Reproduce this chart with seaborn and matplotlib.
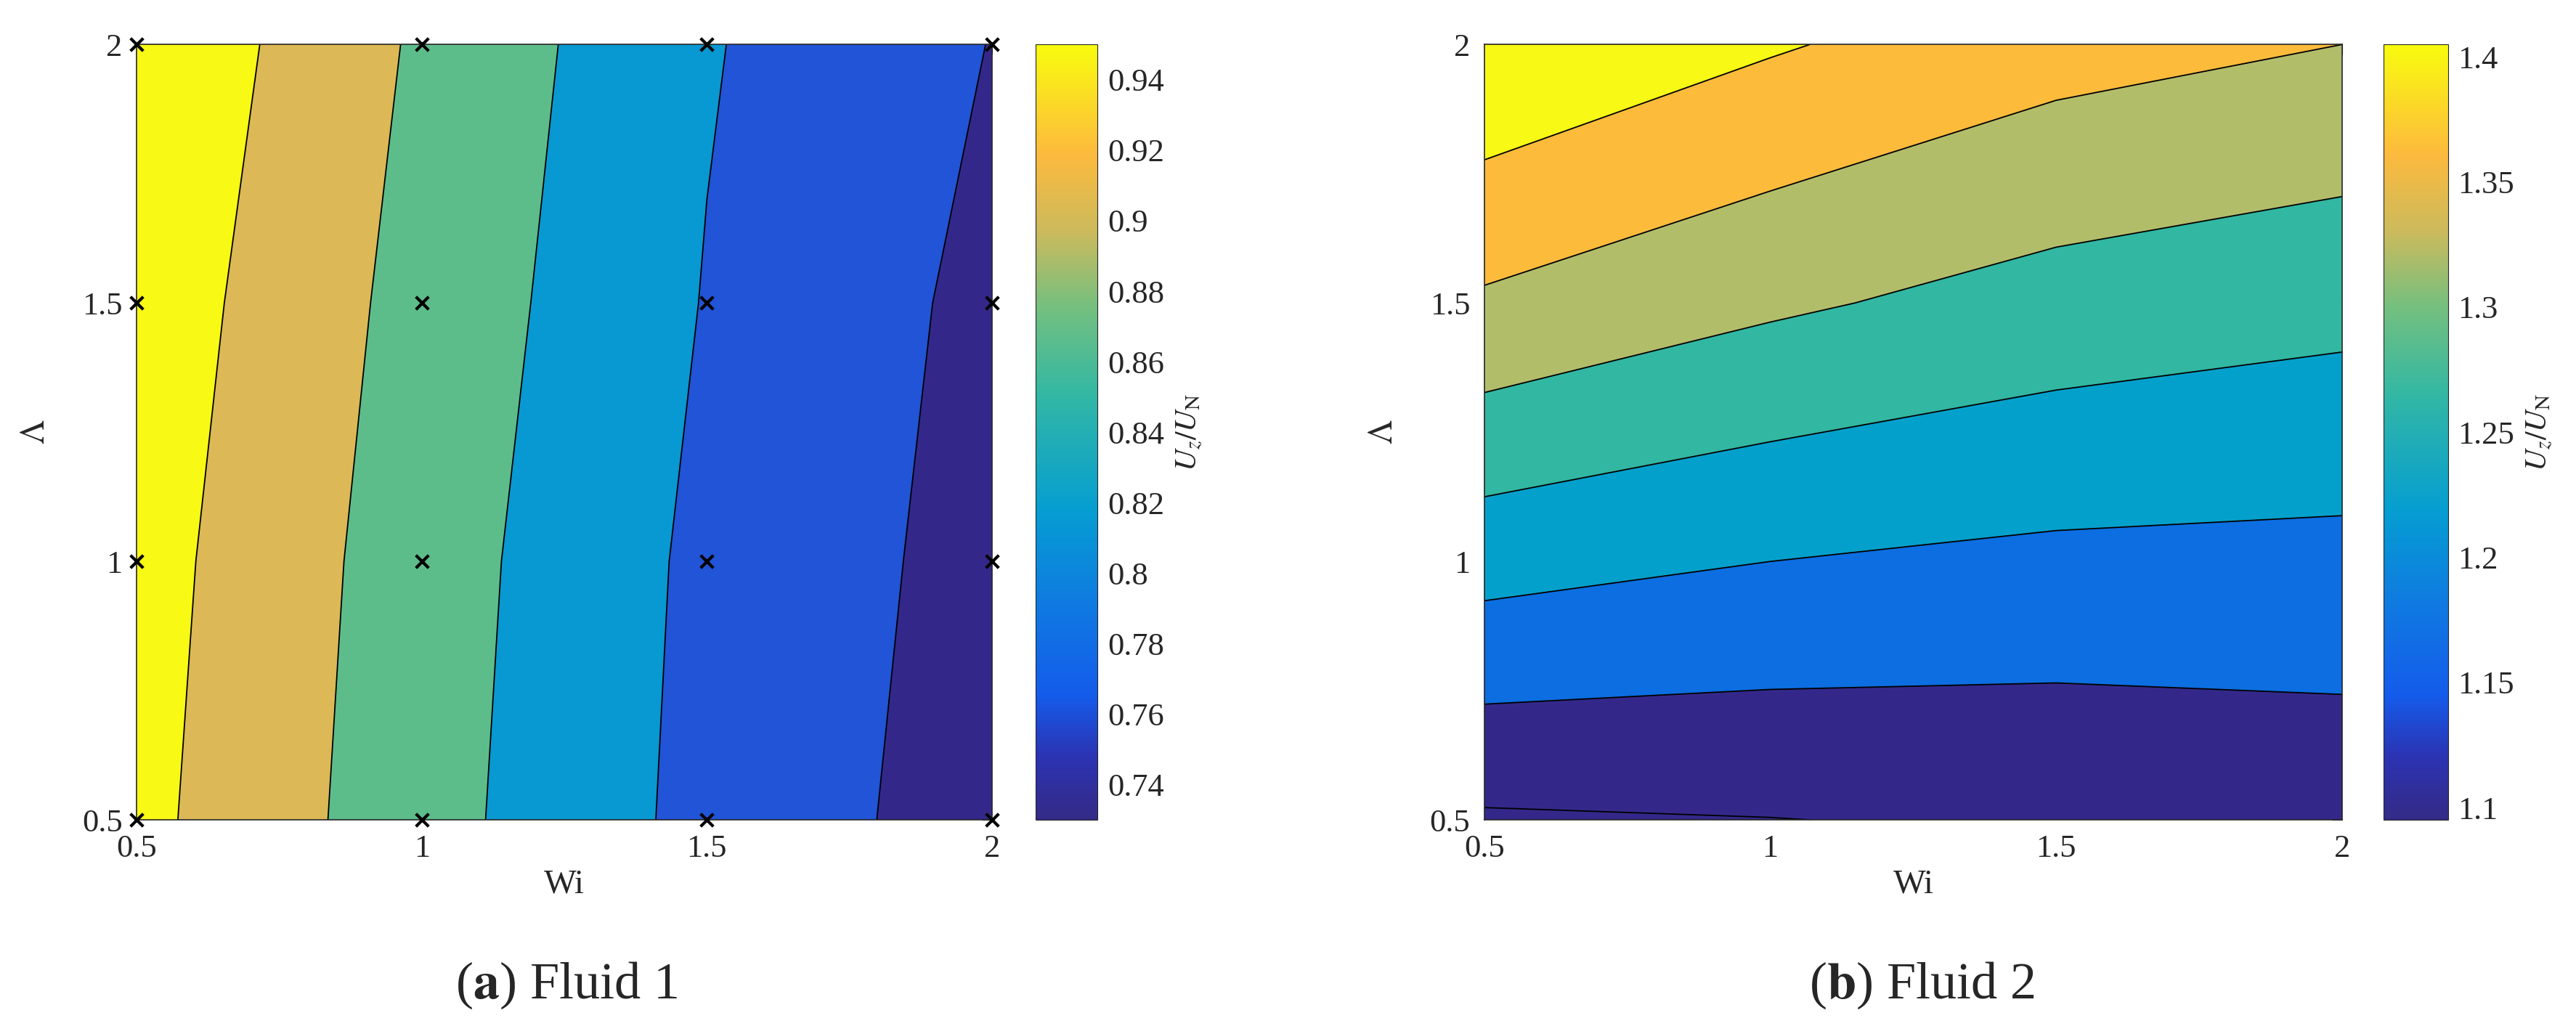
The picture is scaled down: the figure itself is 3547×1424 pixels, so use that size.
import numpy as np
import pandas as pd
import matplotlib
matplotlib.use("Agg")
import matplotlib.pyplot as plt
import seaborn as sns
from matplotlib.colors import LinearSegmentedColormap, Normalize
from matplotlib.ticker import FuncFormatter

# grid values
wi = [0.5, 1.0, 1.5, 2.0]
lam = [0.5, 1.0, 1.5, 2.0]
# rows = Lambda, cols = Wi
fluid1 = [
    [0.931, 0.855, 0.788, 0.741],
    [0.936, 0.859, 0.791, 0.746],
    [0.944, 0.866, 0.798, 0.750],
    [0.955, 0.874, 0.803, 0.759],
]
fluid2 = [
    [1.094, 1.099, 1.106, 1.116],
    [1.219, 1.200, 1.189, 1.186],
    [1.343, 1.308, 1.281, 1.265],
    [1.446, 1.405, 1.369, 1.350],
]
levels1 = [0.70, 0.76, 0.80, 0.84, 0.88, 0.92, 1.0]
levels2 = [1.0, 1.10, 1.15, 1.20, 1.25, 1.30, 1.35, 1.40, 1.5]
fills1 = ["#33288a", "#2154d6", "#0898d2", "#5cbd8b", "#dcb856", "#f8f914"]
fills2 = ["#33288a", "#33288a", "#0c6ee0", "#04a0cc", "#31b7a2", "#b2bd6a", "#fdbb3c", "#f8f914"]
cticks1 = [0.74, 0.76, 0.78, 0.80, 0.82, 0.84, 0.86, 0.88, 0.90, 0.92, 0.94]
cticks2 = [1.1, 1.15, 1.2, 1.25, 1.3, 1.35, 1.4]

sns.set_style("white")
plt.rcParams["font.family"] = ["Liberation Serif", "DejaVu Serif"]
plt.rcParams["mathtext.fontset"] = "stix"

parula = LinearSegmentedColormap.from_list("parula", [
    (0.0, (0.208, 0.166, 0.529)),
    (0.08, (0.17, 0.20, 0.70)),
    (0.16, (0.08, 0.36, 0.92)),
    (0.28, (0.06, 0.48, 0.88)),
    (0.40, (0.02, 0.62, 0.82)),
    (0.55, (0.20, 0.72, 0.64)),
    (0.66, (0.45, 0.75, 0.50)),
    (0.76, (0.80, 0.73, 0.36)),
    (0.86, (0.99, 0.73, 0.24)),
    (1.0, (0.976, 0.984, 0.055)),
])

fig = plt.figure(figsize=(35.48, 14.24), dpi=100)
ax1 = fig.add_axes([0.053, 0.207, 0.332, 0.750])
cax1 = fig.add_axes([0.402, 0.207, 0.024, 0.750])
ax2 = fig.add_axes([0.576, 0.207, 0.333, 0.750])
cax2 = fig.add_axes([0.925, 0.207, 0.025, 0.750])

X, Y = np.meshgrid(wi, lam)
fmt = FuncFormatter(lambda v, p: f"{v:g}")


def panel(ax, cax, Z, levels, fills, vmin, vmax, cticks, caption, x_caption):
    norm = Normalize(vmin=vmin, vmax=vmax)
    ax.contourf(X, Y, np.array(Z), levels=levels, colors=fills)
    ax.contour(X, Y, np.array(Z), levels=levels[1:-1], colors="black", linewidths=1.3)
    ax.set_xlim(0.5, 2)
    ax.set_ylim(0.5, 2)
    ax.set_xticks(wi)
    ax.set_yticks(lam)
    ax.xaxis.set_major_formatter(fmt)
    ax.yaxis.set_major_formatter(fmt)
    ax.tick_params(labelsize=32, direction="in", length=10, pad=14, top=True, right=True)
    for s in ax.spines.values():
        s.set_linewidth(1.2)
    sm = plt.cm.ScalarMappable(norm=norm, cmap=parula)
    cb = fig.colorbar(sm, cax=cax)
    cb.set_ticks(cticks)
    cb.ax.yaxis.set_major_formatter(fmt)
    cb.ax.tick_params(labelsize=32, direction="in", length=10, pad=10)
    cb.set_label(r"$U_z/U_\mathrm{N}$", fontsize=30, labelpad=10)
    fig.text(x_caption, 0.035, caption, ha="center", fontsize=52)


panel(ax1, cax1, fluid1, levels1, fills1, 0.73, 0.95, cticks1, r"($\mathbf{a}$) Fluid 1", 0.22)
panel(ax2, cax2, fluid2, levels2, fills2, 1.095, 1.405, cticks2, r"($\mathbf{b}$) Fluid 2", 0.746)

ax2.grid(True, color="white", alpha=0.15, linewidth=1)

pts = pd.DataFrame({"Wi": X.ravel(), "Lambda": Y.ravel()})
sns.scatterplot(data=pts, x="Wi", y="Lambda", marker="x", color="black", s=160,
                linewidth=3, ax=ax1, clip_on=False, zorder=5)

for ax in (ax1, ax2):
    ax.set_xlabel("Wi", fontsize=34, labelpad=6)
    ax.set_ylabel(r"$\Lambda$", fontsize=34, labelpad=30)

fig.savefig("out.png", dpi=100)
